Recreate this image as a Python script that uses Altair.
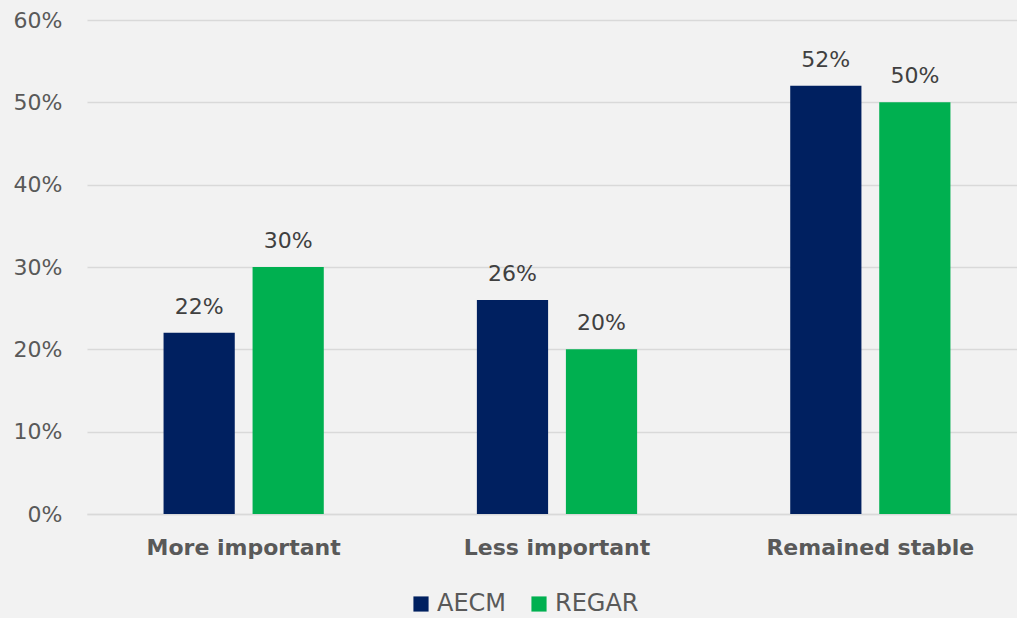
import altair as alt
import pandas as pd

categories = ["More important", "Less important", "Remained stable"]
series = ["AECM", "REGAR"]
aecm = [22, 26, 52]
regar = [30, 20, 50]
colors = ["#002060", "#00B050"]

rows = []
for c, a, r in zip(categories, aecm, regar):
    rows.append({"cat": c, "series": "AECM", "v": a / 100, "lab": f"{a}%"})
    rows.append({"cat": c, "series": "REGAR", "v": r / 100, "lab": f"{r}%"})
df = pd.DataFrame(rows)

FONT = "DejaVu Sans"
x = alt.X("cat:N", sort=categories, title=None,
          scale=alt.Scale(range=[0, 940], paddingInner=0, paddingOuter=0),
          axis=alt.Axis(labelAngle=0, labelFontSize=22, labelFontWeight="bold",
                        labelColor="#595959", labelFont=FONT, labelPadding=23,
                        labelLimit=0,
                        ticks=False, domain=True, domainColor="#D9D9D9",
                        domainWidth=1.5))
xo = alt.XOffset("series:N", sort=series,
                 scale=alt.Scale(paddingInner=0.2, paddingOuter=0.86))
y = alt.Y("v:Q", title=None,
          scale=alt.Scale(domain=[0, 0.6], nice=False),
          axis=alt.Axis(format=".0%", values=[0, 0.1, 0.2, 0.3, 0.4, 0.5, 0.6],
                        labelFontSize=22, labelColor="#595959", labelFont=FONT,
                        labelPadding=25, ticks=False, domain=False,
                        gridColor="#D9D9D9", gridWidth=1.5))

bars = alt.Chart(df).mark_bar().encode(
    x=x, xOffset=xo, y=y,
    color=alt.Color("series:N", sort=series,
                    scale=alt.Scale(domain=series, range=colors),
                    legend=alt.Legend(title=None, orient="none", direction="horizontal",
                                      legendX=322, legendY=572,
                                      symbolType="square", symbolSize=230,
                                      symbolStrokeWidth=0,
                                      labelFontSize=24, labelColor="#595959",
                                      labelFont=FONT, columnPadding=20,
                                      symbolOffset=0, labelOffset=4)),
)
labels = alt.Chart(df).mark_text(dy=-26, fontSize=22, color="#404040", font=FONT).encode(
    x=alt.X("cat:N", sort=categories), xOffset=alt.XOffset("series:N", sort=series),
    y="v:Q", text="lab:N",
)

chart = alt.layer(bars, labels).properties(
    width=930, height=494,
    autosize=alt.AutoSizeParams(type="none"),
    padding={"left": 87, "top": 20, "right": 0, "bottom": 104},
    background="#F2F2F2",
).configure_view(strokeWidth=0)

chart.save("out.html", embed_options={"renderer": "svg", "actions": False})
